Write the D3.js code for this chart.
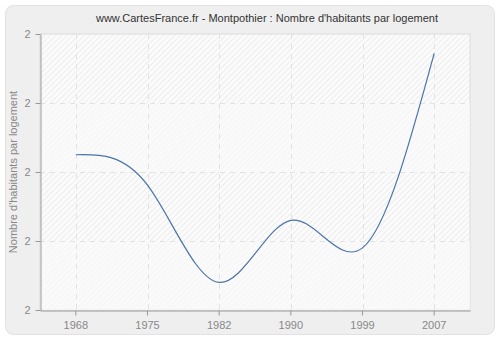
<!DOCTYPE html>
<html>
  <head>
    <meta charset="utf-8">
    <title>Montpothier</title>
    <style>
      body { margin: 0; background: #fff; }
      svg text { font-family: "Liberation Sans", Arial, sans-serif; }
    </style>
  </head>
  <body>
    <div id="chart"></div>
    <script src="https://cdn.jsdelivr.net/npm/d3@7"></script>
    <script>
      var years = ['1968', '1975', '1982', '1990', '1999', '2007'];
      var values = [2.225, 2.181, 2.04, 2.13, 2.09, 2.372];
      var yTicks = [2.0, 2.1, 2.2, 2.3, 2.4];

      (function(d3) {
        'use strict';
        var width = 500;
        var height = 340;
        var left = 40, right = 470, top = 34, bottom = 310;

        var svg = d3.select('#chart')
          .append('svg')
          .attr('width', width)
          .attr('height', height);

        var defs = svg.append('defs');
        var pat = defs.append('pattern')
          .attr('id', 'hatch')
          .attr('patternUnits', 'userSpaceOnUse')
          .attr('width', 4)
          .attr('height', 4)
          .attr('patternTransform', 'rotate(45)');
        pat.append('rect').attr('width', 4).attr('height', 4).attr('fill', '#fbfbfb');
        pat.append('line')
          .attr('x1', 0).attr('y1', 0).attr('x2', 0).attr('y2', 4)
          .attr('stroke', '#e4e4e4').attr('stroke-width', 1.2);

        // outer panel
        svg.append('rect')
          .attr('x', 5.5).attr('y', 5.5)
          .attr('width', 489).attr('height', 329)
          .attr('rx', 8)
          .attr('fill', '#efefef')
          .attr('stroke', '#e2e2e2');

        svg.append('text')
          .attr('x', 267).attr('y', 22)
          .attr('text-anchor', 'middle')
          .attr('font-size', 11)
          .attr('fill', '#333')
          .text('www.CartesFrance.fr - Montpothier : Nombre d\'habitants par logement');

        var x = d3.scaleBand().domain(years).range([left, right]);
        var y = d3.scaleLinear().domain([2.0, 2.4]).range([bottom, top]);

        // plot background
        svg.append('rect')
          .attr('x', left).attr('y', top)
          .attr('width', right - left).attr('height', bottom - top)
          .attr('fill', 'url(#hatch)')
          .attr('stroke', '#dcdcdc');

        // lighter alternating bands
        svg.selectAll('rect.band')
          .data([[2.3, 2.2], [2.1, 2.0]])
          .enter()
          .append('rect')
          .attr('class', 'band')
          .attr('x', left).attr('width', right - left)
          .attr('y', function(d) { return y(d[0]); })
          .attr('height', function(d) { return y(d[1]) - y(d[0]); })
          .attr('fill', '#fafafa')
          .attr('fill-opacity', 0.6);

        // grid
        svg.selectAll('line.hgrid')
          .data(yTicks.slice(1, -1))
          .enter()
          .append('line')
          .attr('x1', left).attr('x2', right)
          .attr('y1', function(d) { return y(d) + 0.5; })
          .attr('y2', function(d) { return y(d) + 0.5; })
          .attr('stroke', '#e2e2e2')
          .attr('stroke-dasharray', '5,5');

        svg.selectAll('line.vgrid')
          .data(years)
          .enter()
          .append('line')
          .attr('x1', function(d) { return Math.round(x(d) + x.bandwidth() / 2) + 0.5; })
          .attr('x2', function(d) { return Math.round(x(d) + x.bandwidth() / 2) + 0.5; })
          .attr('y1', top).attr('y2', bottom)
          .attr('stroke', '#e2e2e2')
          .attr('stroke-dasharray', '5,5');

        // axes
        var xAxis = svg.append('g')
          .attr('transform', 'translate(0,' + (bottom + 0.5) + ')')
          .call(d3.axisBottom(x).tickSize(5).tickSizeOuter(0).tickPadding(6));
        var yAxis = svg.append('g')
          .attr('transform', 'translate(' + (left + 0.5) + ',0)')
          .call(d3.axisLeft(y).tickValues(yTicks).tickFormat(d3.format('.0f'))
            .tickSize(5).tickSizeOuter(0).tickPadding(5));

        [xAxis, yAxis].forEach(function(g) {
          g.selectAll('path, line').attr('stroke', '#999');
          g.selectAll('text')
            .attr('fill', '#888')
            .attr('font-size', 11)
            .attr('font-family', '"Liberation Sans", Arial, sans-serif');
        });

        svg.append('text')
          .attr('transform', 'translate(17,' + ((top + bottom) / 2) + ') rotate(-90)')
          .attr('text-anchor', 'middle')
          .attr('font-size', 11)
          .attr('fill', '#888')
          .text('Nombre d\'habitants par logement');

        // line
        var line = d3.line()
          .x(function(d, i) { return x(years[i]) + x.bandwidth() / 2; })
          .y(function(d) { return y(d); })
          .curve(d3.curveNatural);

        svg.append('path')
          .datum(values)
          .attr('d', line)
          .attr('fill', 'none')
          .attr('stroke', '#4a74a8')
          .attr('stroke-width', 1.2);
      })(window.d3);
    </script>
  </body>
</html>
